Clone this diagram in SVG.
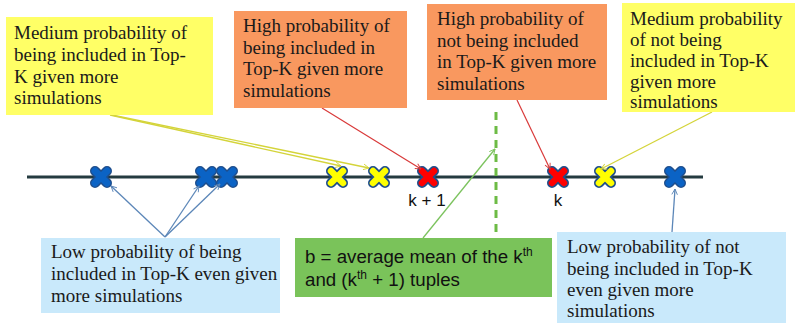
<svg xmlns="http://www.w3.org/2000/svg" width="798" height="323" viewBox="0 0 798 323">
<style>
text.t{font-family:'Liberation Serif','DejaVu Serif','Times New Roman',serif;font-size:19px;fill:#1a1a1a}
text.s{font-family:'Liberation Sans',Arial,sans-serif;fill:#111}
.yb{fill:#FFFF66}
.ob{fill:#F9985F}
.bb{fill:#C9E9FB}
.gb{fill:#7AC35A}
.cy{stroke:#D4D43A;stroke-width:1.3;fill:none}
.cr{stroke:#D93A3A;stroke-width:1.2;fill:none}
.cb{stroke:#5B86B8;stroke-width:1.3;fill:none}
.cg{stroke:#7CC35E;stroke-width:1.3;fill:none}
</style>
<defs>
<g id="xo"><path d="M-6,-6L6,6M6,-6L-6,6" stroke="#1F4E8C" stroke-width="10" stroke-linecap="round"/></g>
<g id="xblue"><use href="#xo"/><path d="M-6,-6L6,6M6,-6L-6,6" stroke="#0B63C5" stroke-width="7" stroke-linecap="round"/></g>
<g id="xyel"><use href="#xo"/><path d="M-6,-6L6,6M6,-6L-6,6" stroke="#FFFF00" stroke-width="6.5" stroke-linecap="round"/></g>
<g id="xred"><use href="#xo"/><path d="M-6,-6L6,6M6,-6L-6,6" stroke="#FF0000" stroke-width="6.5" stroke-linecap="round"/></g>
<marker id="ay" viewBox="0 0 10 10" refX="9" refY="5" markerWidth="7" markerHeight="7" orient="auto" markerUnits="userSpaceOnUse"><path d="M1,1L9,5L1,9" fill="none" stroke="#D4D43A" stroke-width="1.3"/></marker>
<marker id="ar" viewBox="0 0 10 10" refX="9" refY="5" markerWidth="7" markerHeight="7" orient="auto" markerUnits="userSpaceOnUse"><path d="M1,1L9,5L1,9" fill="none" stroke="#D93A3A" stroke-width="1.3"/></marker>
<marker id="ab" viewBox="0 0 10 10" refX="9" refY="5" markerWidth="7" markerHeight="7" orient="auto" markerUnits="userSpaceOnUse"><path d="M1,1L9,5L1,9" fill="none" stroke="#5B86B8" stroke-width="1.3"/></marker>
<marker id="ag" viewBox="0 0 10 10" refX="9" refY="5" markerWidth="7" markerHeight="7" orient="auto" markerUnits="userSpaceOnUse"><path d="M1,1L9,5L1,9" fill="none" stroke="#7CC35E" stroke-width="1.3"/></marker>
</defs>
<rect width="798" height="323" fill="#fff"/>

<g id="axis">
<line x1="27" y1="177" x2="703" y2="177" stroke="#243B40" stroke-width="3"/>
<line x1="496" y1="112" x2="496" y2="238" stroke="#6DBB45" stroke-width="3" stroke-dasharray="8,6"/>
</g>

<g id="points">
<use href="#xblue" x="101" y="177"/>
<use href="#xblue" x="206" y="177"/>
<use href="#xblue" x="227" y="177"/>
<use href="#xyel" x="337" y="177"/>
<use href="#xyel" x="379" y="177"/>
<use href="#xred" x="428" y="177"/>
<use href="#xred" x="558" y="177"/>
<use href="#xyel" x="605" y="177"/>
<use href="#xblue" x="675" y="177"/>
<text class="s" x="427" y="206" font-size="17" text-anchor="middle">k + 1</text>
<text class="s" x="558" y="206" font-size="17" text-anchor="middle">k</text>
</g>

<g id="connectors">
<line class="cy" x1="110" y1="115" x2="341" y2="166" marker-end="url(#ay)"/>
<line class="cy" x1="112" y1="115" x2="369" y2="168" marker-end="url(#ay)"/>
<line class="cr" x1="322" y1="108" x2="421" y2="169" marker-end="url(#ar)"/>
<line class="cr" x1="517" y1="100" x2="550" y2="169" marker-end="url(#ar)"/>
<line class="cy" x1="712" y1="112" x2="601" y2="169" marker-end="url(#ay)"/>
<line class="cg" x1="423" y1="238" x2="495" y2="149" marker-end="url(#ag)"/>
<line class="cb" x1="165" y1="237" x2="111" y2="186" marker-end="url(#ab)"/>
<line class="cb" x1="165" y1="237" x2="199" y2="186" marker-end="url(#ab)"/>
<line class="cb" x1="165" y1="237" x2="220" y2="184" marker-end="url(#ab)"/>
<line class="cb" x1="672" y1="232" x2="675" y2="189" marker-end="url(#ab)"/>
</g>

<g id="box-medium-in">
<rect class="yb" x="6" y="17" width="207" height="98"/>
<text class="t" x="14" y="39">Medium probability of</text>
<text class="t" x="14" y="61">being included in Top-</text>
<text class="t" x="14" y="83">K given more</text>
<text class="t" x="14" y="104">simulations</text>
</g>

<g id="box-high-in">
<rect class="ob" x="234" y="11" width="173" height="97"/>
<text class="t" x="243" y="32">High probability of</text>
<text class="t" x="243" y="54">being included in</text>
<text class="t" x="243" y="75">Top-K given more</text>
<text class="t" x="243" y="97">simulations</text>
</g>

<g id="box-high-not">
<rect class="ob" x="427" y="4" width="180" height="96"/>
<text class="t" x="437" y="25">High probability of</text>
<text class="t" x="437" y="47">not being included</text>
<text class="t" x="437" y="68">in Top-K given more</text>
<text class="t" x="437" y="90">simulations</text>
</g>

<g id="box-medium-not">
<rect class="yb" x="622" y="3" width="173" height="109"/>
<text class="t" x="630" y="25">Medium probability</text>
<text class="t" x="630" y="46">of not being</text>
<text class="t" x="630" y="67">included in Top-K</text>
<text class="t" x="630" y="88">given more</text>
<text class="t" x="630" y="108">simulations</text>
</g>

<g id="box-low-in">
<rect class="bb" x="41" y="238" width="239" height="75"/>
<text class="t" x="51" y="258">Low probability of being</text>
<text class="t" x="51" y="280">included in Top-K even given</text>
<text class="t" x="51" y="302">more simulations</text>
</g>

<g id="box-b">
<rect class="gb" x="295" y="238" width="257" height="59"/>
<text class="s" x="305" y="263" font-size="18.7">b = average mean of the k<tspan font-size="12" dy="-7">th</tspan></text>
<text class="s" x="305" y="286" font-size="18.7">and (k<tspan font-size="12" dy="-7">th</tspan><tspan dy="7"> + 1) tuples</tspan></text>
</g>

<g id="box-low-not">
<rect class="bb" x="557" y="232" width="229" height="91"/>
<text class="t" x="567" y="253">Low probability of not</text>
<text class="t" x="567" y="275">being included in Top-K</text>
<text class="t" x="567" y="296">even given more</text>
<text class="t" x="567" y="317">simulations</text>
</g>
</svg>
